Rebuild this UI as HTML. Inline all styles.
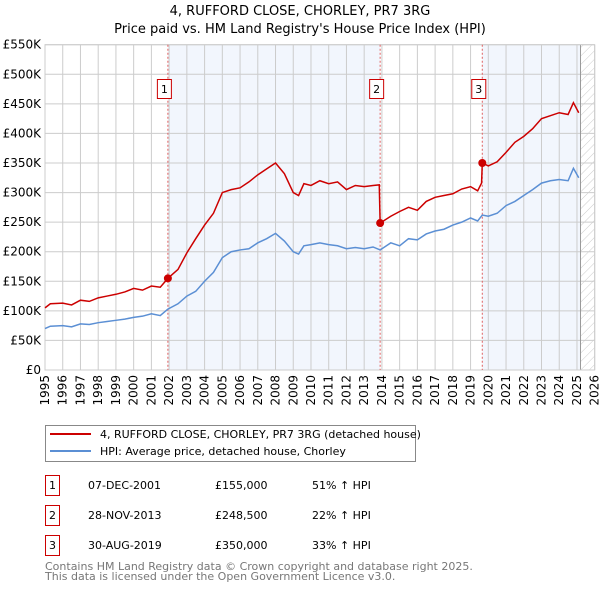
<!DOCTYPE html>
<html><head><meta charset="utf-8"><style>
body{margin:0;background:#fff;width:600px;height:590px;overflow:hidden;font-family:"DejaVu Sans","Liberation Sans",sans-serif;}
svg{display:block}
</style></head><body>
<svg id="c" width="600" height="590" xmlns="http://www.w3.org/2000/svg">
<defs><pattern id="hatch" width="6" height="6" patternUnits="userSpaceOnUse" patternTransform="rotate(45)"><line x1="0" y1="0" x2="0" y2="6" stroke="#ccc" stroke-width="1"/></pattern></defs>
<text x="300" y="15" text-anchor="middle" font-size="13">4, RUFFORD CLOSE, CHORLEY, PR7 3RG</text>
<text x="300" y="33" text-anchor="middle" font-size="13">Price paid vs. HM Land Registry's House Price Index (HPI)</text>
<g id="plot"></g>
<g>
<rect x="45.5" y="425.5" width="370" height="36" fill="#fff" stroke="#888"/>
<line x1="50" y1="434" x2="91" y2="434" stroke="#cc0000" stroke-width="2"/>
<text x="100" y="438" font-size="11">4, RUFFORD CLOSE, CHORLEY, PR7 3RG (detached house)</text>
<line x1="50" y1="451" x2="91" y2="451" stroke="#5b8fd4" stroke-width="2"/>
<text x="100" y="455" font-size="11">HPI: Average price, detached house, Chorley</text>
</g>
<g font-size="11">
<rect x="45.5" y="475.5" width="14" height="20" fill="#fff" stroke="#cc0000"/><text x="52.5" y="489" text-anchor="middle">1</text>
<text x="88" y="489">07-DEC-2001</text><text x="215" y="489">£155,000</text><text x="312" y="489">51% ↑ HPI</text>
<rect x="45.5" y="505.5" width="14" height="20" fill="#fff" stroke="#cc0000"/><text x="52.5" y="519" text-anchor="middle">2</text>
<text x="88" y="519">28-NOV-2013</text><text x="215" y="519">£248,500</text><text x="312" y="519">22% ↑ HPI</text>
<rect x="45.5" y="535.5" width="14" height="20" fill="#fff" stroke="#cc0000"/><text x="52.5" y="549" text-anchor="middle">3</text>
<text x="88" y="549">30-AUG-2019</text><text x="215" y="549">£350,000</text><text x="312" y="549">33% ↑ HPI</text>
</g>
<text x="45" y="570" font-size="11" fill="#777">Contains HM Land Registry data © Crown copyright and database right 2025.</text>
<text x="45" y="580" font-size="11" fill="#777">This data is licensed under the Open Government Licence v3.0.</text>
</svg>
<script>
const hpiYears=[1995,1995.3,1996,1996.5,1997,1997.5,1998,1998.5,1999,1999.5,2000,2000.5,2001,2001.5,2001.93,2002.5,2003,2003.5,2004,2004.5,2005,2005.5,2006,2006.5,2007,2007.5,2008,2008.5,2009,2009.3,2009.6,2010,2010.5,2011,2011.5,2012,2012.5,2013,2013.5,2013.9,2014.5,2015,2015.5,2016,2016.5,2017,2017.5,2018,2018.5,2019,2019.4,2019.66,2020,2020.5,2021,2021.5,2022,2022.5,2023,2023.5,2024,2024.5,2024.8,2025.1];
const hpiValues=[70,74,75,73,78,77,80,82,84,86,89,91,95,92,103,112,125,133,150,165,190,200,203,205,215,222,231,218,200,196,210,212,215,212,210,205,207,205,208,203,215,210,222,220,230,235,238,245,250,257,252,262,260,265,278,285,295,305,316,320,322,320,341,325];
const priceYears=[1995,1995.3,1996,1996.5,1997,1997.5,1998,1998.5,1999,1999.5,2000,2000.5,2001,2001.5,2001.93,2002.5,2003,2003.5,2004,2004.5,2005,2005.5,2006,2006.5,2007,2007.5,2008,2008.5,2009,2009.3,2009.6,2010,2010.5,2011,2011.5,2012,2012.5,2013,2013.5,2013.85,2013.9,2014.5,2015,2015.5,2016,2016.5,2017,2017.5,2018,2018.5,2019,2019.4,2019.62,2019.66,2020,2020.5,2021,2021.5,2022,2022.5,2023,2023.5,2024,2024.5,2024.8,2025.1];
const priceValues=[105,112,113,110,118,116,122,125,128,132,138,135,142,140,155,170,198,222,245,265,300,305,308,318,330,340,350,332,300,295,315,312,320,315,318,305,312,310,312,313,248.5,260,268,275,270,285,292,295,298,306,310,303,316,350,345,352,368,385,395,408,425,430,435,432,452,435];
const saleYears=[2001.93,2013.9,2019.66];
const saleValues=[155,248.5,350];
const saleLabels=["1","2","3"];
const yTicks=[0,50,100,150,200,250,300,350,400,450,500,550];
const yTickLabels=["£0","£50K","£100K","£150K","£200K","£250K","£300K","£350K","£400K","£450K","£500K","£550K"];
const xTicks=[1995,1996,1997,1998,1999,2000,2001,2002,2003,2004,2005,2006,2007,2008,2009,2010,2011,2012,2013,2014,2015,2016,2017,2018,2019,2020,2021,2022,2023,2024,2025,2026];

const L=45,R=594.7,T=44.7,B=370;
const X=y=>L+(y-1995)*(R-L)/31;
const Y=v=>B-v*(B-T)/550;
const NS="http://www.w3.org/2000/svg";
const g=document.getElementById('plot');
function mk(tag,attrs){const e=document.createElementNS(NS,tag);for(const k in attrs)e.setAttribute(k,attrs[k]);g.appendChild(e);return e;}
// shading
let s1=mk('rect',{x:X(saleYears[0]),y:T,width:X(saleYears[1])-X(saleYears[0]),height:B-T,fill:'#f2f6fd'});


let s3=mk('rect',{x:X(saleYears[2]),y:T,width:X(2025.2)-X(saleYears[2]),height:B-T,fill:'#f2f6fd'});


let hz=mk('rect',{x:X(2025.2),y:T,width:R-X(2025.2),height:B-T,fill:'url(#hatch)'});


// grid
xTicks.forEach(t=>{let l=mk('line',{x1:X(t),x2:X(t),y1:T,y2:B,stroke:'#ccc','stroke-width':1});


let tx=mk('text',{x:0,y:0,'font-size':12,'text-anchor':'end',transform:`translate(${X(t)+4},${B+5}) rotate(-90)`});tx.textContent=t;

});
yTicks.forEach((t,i)=>{let l=mk('line',{x1:L,x2:R,y1:Y(t),y2:Y(t),stroke:'#ccc','stroke-width':1});


let tx=mk('text',{x:L-4,y:Y(t)+4,'font-size':12,'text-anchor':'end'});tx.textContent=yTickLabels[i];

});
let nl=mk('line',{x1:X(2025.2),x2:X(2025.2),y1:T,y2:B,stroke:'#999','stroke-width':1});


let bd=mk('rect',{x:L,y:T,width:R-L,height:B-T,fill:'none',stroke:'#ccc'});


// sale markers lines
saleYears.forEach((s,i)=>{let l=mk('line',{x1:X(s),x2:X(s),y1:T,y2:B,stroke:'#e06060','stroke-width':1,'stroke-dasharray':'2,2'});


let r=mk('rect',{x:X(s)-10.5,y:79.5,width:14,height:19,fill:'#fff',stroke:'#cc0000'});


let t=mk('text',{x:X(s)-3.5,y:93,'font-size':11,'text-anchor':'middle'});t.textContent=saleLabels[i];

});
// lines
let hp=mk('polyline',{points:hpiYears.map((y,i)=>X(y)+','+Y(hpiValues[i])).join(' '),fill:'none',stroke:'#5b8fd4','stroke-width':1.5});


let pp=mk('polyline',{points:priceYears.map((y,i)=>X(y)+','+Y(priceValues[i])).join(' '),fill:'none',stroke:'#cc0000','stroke-width':1.5});


saleYears.forEach((s,i)=>{let c=mk('circle',{cx:X(s),cy:Y(saleValues[i]),r:4,fill:'#cc0000'});

});
</script>
</body></html>
